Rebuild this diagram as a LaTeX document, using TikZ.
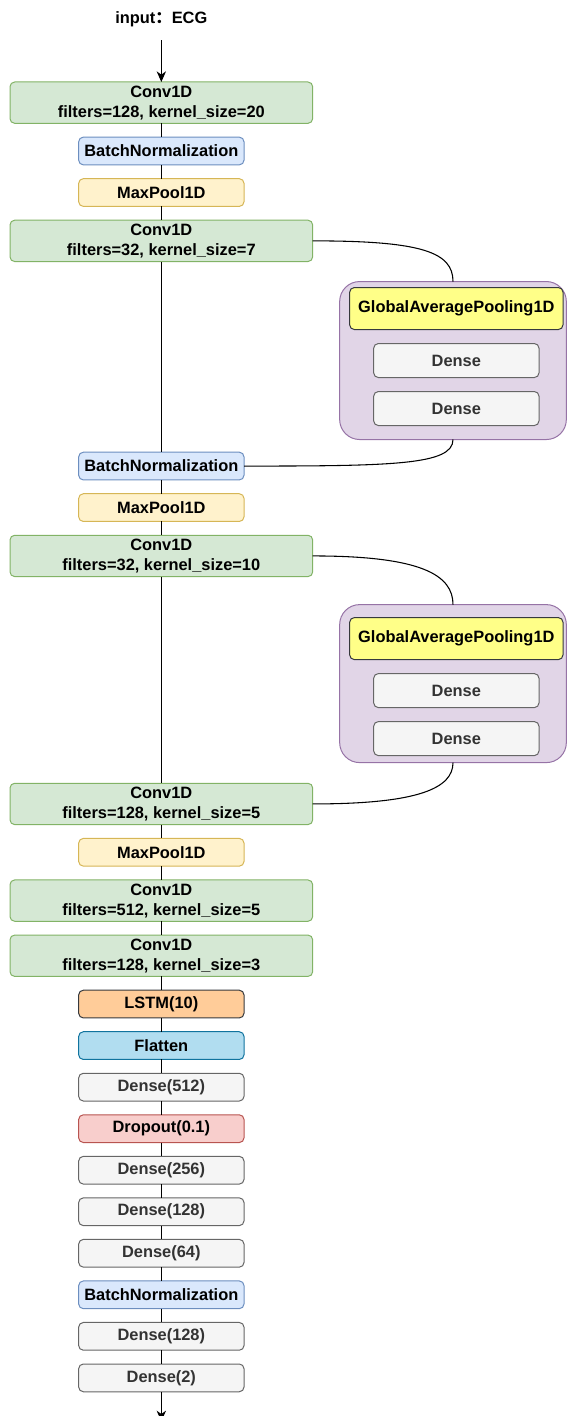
\documentclass[tikz,border=0pt]{standalone}
\usepackage{fontspec}
\setmainfont{Liberation Sans}
\newfontfamily\cjk{Noto Sans CJK SC}
\usepackage{xcolor}
\definecolor{convfill}{HTML}{D5E8D4}
\definecolor{convline}{HTML}{82B366}
\definecolor{normfill}{HTML}{DAE8FC}
\definecolor{normline}{HTML}{6C8EBF}
\definecolor{poolfill}{HTML}{FFF2CC}
\definecolor{poolline}{HTML}{D6B656}
\definecolor{densefill}{HTML}{F5F5F5}
\definecolor{denseline}{HTML}{666666}
\definecolor{densetext}{HTML}{333333}
\definecolor{sefill}{HTML}{E1D5E7}
\definecolor{seline}{HTML}{9673A6}
\definecolor{gapfill}{HTML}{FFFF88}
\definecolor{darkline}{HTML}{36393D}
\definecolor{lstmfill}{HTML}{FFCC99}
\definecolor{flatfill}{HTML}{B1DDF0}
\definecolor{flatline}{HTML}{10739E}
\definecolor{dropfill}{HTML}{F8CECC}
\definecolor{dropline}{HTML}{B85450}
\usepackage{tikz}
\usetikzlibrary{arrows.meta,positioning}
\tikzset{
  layer/.style={draw,rounded corners=3.5pt,line width=0.75pt,outer sep=0pt,%
    font=\fontsize{12.3}{15}\selectfont\bfseries,inner sep=0pt,align=center,%
    minimum width=124pt,minimum height=20.8pt},
  convbox/.style={layer,fill=convfill,draw=convline,minimum width=227pt,minimum height=31pt},
  normbox/.style={layer,fill=normfill,draw=normline},
  poolbox/.style={layer,fill=poolfill,draw=poolline},
  densebox/.style={layer,fill=densefill,draw=denseline,text=densetext},
  lstmbox/.style={layer,fill=lstmfill,draw=darkline},
  flatbox/.style={layer,fill=flatfill,draw=flatline},
  dropbox/.style={layer,fill=dropfill,draw=dropline},
  gapbox/.style={layer,fill=gapfill,draw=darkline,minimum width=160pt,minimum height=31.5pt},
  sedense/.style={densebox,minimum height=25.5pt},
  sebox/.style={draw=seline,fill=sefill,line width=0.75pt,rounded corners=15pt,outer sep=0pt,%
    minimum width=170pt,minimum height=118.5pt,inner sep=0pt},
  link/.style={line width=0.8pt},
  flow/.style={-{Stealth[length=8pt,width=7pt,inset=2.5pt]},line width=0.8pt},
}
\begin{document}
\begin{tikzpicture}[node distance=10.35pt]
\useasboundingbox (0,0) rectangle (426pt,-1062pt);
\node[font=\fontsize{12.3}{15}\selectfont\bfseries,inner sep=0pt,text height=9pt,text depth=2.6pt]
  (input) at (121pt,-14.25pt) {input{\cjk ：}ECG};
\node[convbox,anchor=north] (conv1) at (121pt,-61.5pt) {Conv1D\\filters=128, kernel\_size=20};
\node[normbox,below=of conv1] (bn1)   {BatchNormalization};
\node[poolbox,below=of bn1]   (pool1) {MaxPool1D};
\node[convbox,below=of pool1] (conv2) {Conv1D\\filters=32, kernel\_size=7};
\node[normbox,below=143pt of conv2] (bn2) {BatchNormalization};
\node[poolbox,below=of bn2]   (pool2) {MaxPool1D};
\node[convbox,below=of pool2] (conv3) {Conv1D\\filters=32, kernel\_size=10};
\node[convbox,below=155pt of conv3] (conv4) {Conv1D\\filters=128, kernel\_size=5};
\node[poolbox,below=of conv4] (pool3) {MaxPool1D};
\node[convbox,below=of pool3] (conv5) {Conv1D\\filters=512, kernel\_size=5};
\node[convbox,below=of conv5] (conv6) {Conv1D\\filters=128, kernel\_size=3};
\node[lstmbox,below=of conv6]  (lstm)  {LSTM(10)};
\node[flatbox,below=of lstm]   (flat)  {Flatten};
\node[densebox,below=of flat]  (d512)  {Dense(512)};
\node[dropbox,below=of d512]   (drop)  {Dropout(0.1)};
\node[densebox,below=of drop]  (d256)  {Dense(256)};
\node[densebox,below=of d256]  (d128a) {Dense(128)};
\node[densebox,below=of d128a] (d64)   {Dense(64)};
\node[normbox,below=of d64]    (bn3)   {BatchNormalization};
\node[densebox,below=of bn3]   (d128b) {Dense(128)};
\node[densebox,below=of d128b] (d2)    {Dense(2)};
\coordinate (out) at (121pt,-1066pt);
% squeeze-excitation blocks
\node[sebox,below right=15pt and 20.25pt of conv2] (se1) {};
\node[gapbox,below=4.5pt of se1.north,xshift=2.5pt] (gap1) {GlobalAveragePooling1D};
\node[sedense,below=10.5pt of gap1] (se1a) {Dense};
\node[sedense,below=10.5pt of se1a] (se1b) {Dense};
\node[sebox,below right=21pt and 20.25pt of conv3] (se2) {};
\node[gapbox,below=9.75pt of se2.north,xshift=2.5pt] (gap2) {GlobalAveragePooling1D};
\node[sedense,below=10.5pt of gap2] (se2a) {Dense};
\node[sedense,below=10.5pt of se2a] (se2b) {Dense};
% connections
\draw[flow,shorten <=10pt] (input) -- (conv1);
\foreach \a/\b in {conv1/bn1,bn1/pool1,pool1/conv2,conv2/bn2,bn2/pool2,pool2/conv3,%
    conv3/conv4,conv4/pool3,pool3/conv5,conv5/conv6,conv6/lstm,lstm/flat,flat/d512,%
    d512/drop,drop/d256,d256/d128a,d128a/d64,d64/bn3,bn3/d128b,d128b/d2}
  \draw[link] (\a) -- (\b);
\draw[flow] (d2) -- (out);
\draw[link] (conv2.east) .. controls +(82pt,0) and +(0,22pt) .. (se1.north);
\draw[link] (se1.south) .. controls +(0,-19pt) and +(112pt,0) .. (bn2.east);
\draw[link] (conv3.east) .. controls +(82pt,0) and +(0,22pt) .. (se2.north);
\draw[link] (se2.south) .. controls +(0,-19pt) and +(80pt,0) .. (conv4.east);
\end{tikzpicture}
\end{document}
